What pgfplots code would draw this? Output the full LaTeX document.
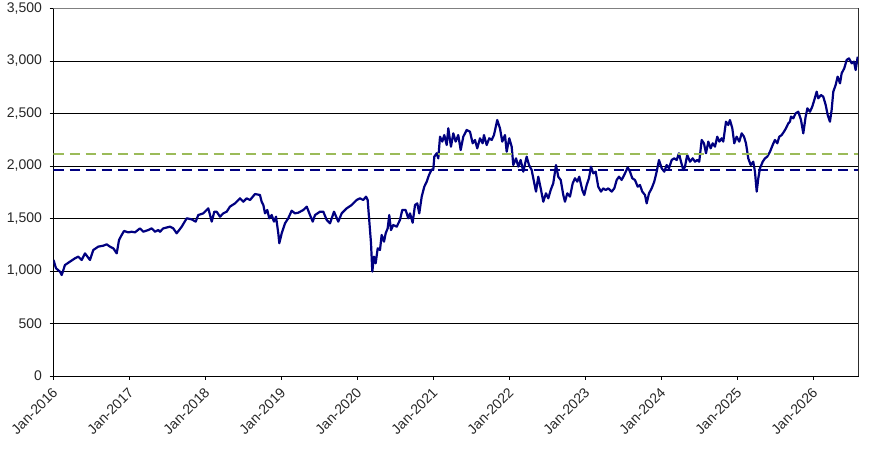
\documentclass[border=0pt]{standalone}
\usepackage{fontspec}
\setmainfont{Liberation Sans}
\usepackage{pgfplots}
\pgfplotsset{compat=1.18}
\definecolor{navyline}{RGB}{0,0,128}
\definecolor{olivedash}{RGB}{155,187,89}
\definecolor{bordergray}{RGB}{128,128,128}
\begin{document}
\begin{tikzpicture}
\begin{axis}[
  scale only axis, width=804.8pt, height=367.5pt,
  xmin=2016, xmax=2026.59, ymin=0, ymax=3500,
  xtick={2016,2017,2018,2019,2020,2021,2022,2023,2024,2025,2026},
  xticklabels={Jan-2016,Jan-2017,Jan-2018,Jan-2019,Jan-2020,Jan-2021,Jan-2022,Jan-2023,Jan-2024,Jan-2025,Jan-2026},
  ytick={0,500,1000,1500,2000,2500,3000,3500},
  tick align=outside, xtick pos=bottom, ytick pos=left,
  major tick length=4pt,
  tick style={black, line width=0.8pt},
  ymajorgrids, grid style={black, line width=0.8pt},
  axis line style={black, line width=0.8pt},
  /pgf/number format/1000 sep={,},
  /pgf/number format/assume math mode=true,
  ticklabel style={font=\fontsize{14}{16}\selectfont, text=black!85},
  yticklabel style={xshift=-4pt},
  xticklabel style={xshift=4pt, yshift=-8pt, rotate=45, anchor=east},
  clip=true,
]
\coordinate (sw) at (rel axis cs:0,0);
\coordinate (ne) at (rel axis cs:1,1);
\addplot[navyline, line width=2.2pt, line join=round, mark=none] coordinates {
(2016.000,1105) (2016.033,1026) (2016.086,993) (2016.108,962) (2016.151,1057)
(2016.217,1089) (2016.283,1121) (2016.326,1137) (2016.371,1105) (2016.414,1168)
(2016.480,1105) (2016.524,1200) (2016.589,1232) (2016.655,1241) (2016.700,1254)
(2016.743,1232) (2016.787,1216) (2016.832,1168) (2016.862,1295) (2016.897,1343)
(2016.928,1381) (2016.984,1368) (2017.029,1374) (2017.072,1368) (2017.138,1406)
(2017.182,1374) (2017.247,1390) (2017.292,1406) (2017.336,1374) (2017.379,1390)
(2017.401,1374) (2017.445,1406) (2017.533,1422) (2017.576,1406) (2017.621,1359)
(2017.687,1422) (2017.753,1502) (2017.818,1492) (2017.871,1470) (2017.905,1533)
(2017.971,1549) (2018.037,1597) (2018.082,1470) (2018.116,1565) (2018.147,1565)
(2018.191,1517) (2018.234,1549) (2018.279,1565) (2018.322,1613) (2018.388,1644)
(2018.454,1692) (2018.497,1660) (2018.542,1692) (2018.586,1676) (2018.651,1733)
(2018.717,1724) (2018.739,1660) (2018.761,1629) (2018.783,1549) (2018.813,1581)
(2018.839,1502) (2018.871,1533) (2018.901,1470) (2018.928,1517) (2018.958,1359)
(2018.971,1264) (2019.003,1359) (2019.046,1454) (2019.089,1502) (2019.134,1574)
(2019.178,1549) (2019.221,1555) (2019.287,1581) (2019.332,1613) (2019.375,1533)
(2019.411,1470) (2019.441,1533) (2019.507,1565) (2019.550,1565) (2019.595,1486)
(2019.638,1454) (2019.661,1502) (2019.691,1565) (2019.747,1470) (2019.792,1549)
(2019.858,1597) (2019.924,1629) (2019.989,1676) (2020.033,1692) (2020.076,1676)
(2020.112,1708) (2020.134,1676) (2020.151,1517) (2020.178,1264) (2020.195,994)
(2020.217,1137) (2020.239,1073) (2020.266,1216) (2020.296,1200) (2020.318,1343)
(2020.349,1279) (2020.371,1359) (2020.397,1406) (2020.418,1533) (2020.441,1390)
(2020.471,1438) (2020.516,1422) (2020.559,1486) (2020.589,1581) (2020.634,1581)
(2020.668,1502) (2020.691,1549) (2020.726,1460) (2020.757,1629) (2020.787,1644)
(2020.813,1549) (2020.845,1708) (2020.879,1803) (2020.911,1851) (2020.941,1914)
(2020.976,1968) (2020.997,1962) (2021.011,2089) (2021.042,2121) (2021.063,2073)
(2021.086,2279) (2021.116,2232) (2021.142,2295) (2021.174,2200) (2021.195,2359)
(2021.230,2184) (2021.261,2311) (2021.292,2232) (2021.326,2295) (2021.358,2152)
(2021.392,2279) (2021.437,2343) (2021.480,2327) (2021.516,2216) (2021.546,2248)
(2021.576,2168) (2021.612,2264) (2021.647,2216) (2021.664,2295) (2021.700,2200)
(2021.734,2264) (2021.766,2248) (2021.796,2295) (2021.839,2438) (2021.875,2359)
(2021.905,2232) (2021.941,2295) (2021.963,2136) (2021.997,2264) (2022.029,2184)
(2022.050,2009) (2022.086,2073) (2022.116,1994) (2022.147,2057) (2022.182,1946)
(2022.226,2089) (2022.257,2009) (2022.292,1962) (2022.322,1851) (2022.349,1756)
(2022.379,1898) (2022.411,1787) (2022.445,1660) (2022.480,1740) (2022.511,1692)
(2022.542,1771) (2022.576,1835) (2022.612,2009) (2022.642,1898) (2022.674,1867)
(2022.708,1724) (2022.730,1660) (2022.761,1740) (2022.796,1708) (2022.832,1835)
(2022.862,1883) (2022.892,1851) (2022.918,1898) (2022.958,1771) (2022.984,1724)
(2023.016,1819) (2023.046,1883) (2023.072,1994) (2023.103,1930) (2023.134,1946)
(2023.168,1803) (2023.204,1756) (2023.234,1787) (2023.266,1771) (2023.300,1787)
(2023.345,1756) (2023.379,1787) (2023.411,1867) (2023.441,1898) (2023.476,1867)
(2023.520,1930) (2023.555,1987) (2023.586,1946) (2023.616,1883) (2023.651,1867)
(2023.687,1803) (2023.717,1819) (2023.747,1756) (2023.783,1724) (2023.805,1644)
(2023.836,1740) (2023.871,1787) (2023.905,1851) (2023.937,1946) (2023.967,2057)
(2024.003,1978) (2024.037,1946) (2024.068,2009) (2024.099,1978) (2024.134,2057)
(2024.168,2073) (2024.200,2057) (2024.230,2121) (2024.257,2041) (2024.287,1962)
(2024.309,1994) (2024.339,2105) (2024.375,2041) (2024.411,2073) (2024.441,2041)
(2024.471,2057) (2024.497,2041) (2024.529,2248) (2024.559,2216) (2024.586,2121)
(2024.616,2232) (2024.647,2168) (2024.674,2216) (2024.704,2184) (2024.734,2279)
(2024.761,2232) (2024.792,2264) (2024.813,2232) (2024.849,2422) (2024.879,2390)
(2024.901,2438) (2024.932,2359) (2024.958,2216) (2024.989,2279) (2025.024,2232)
(2025.055,2311) (2025.086,2279) (2025.112,2216) (2025.142,2073) (2025.174,2009)
(2025.208,2041) (2025.230,1946) (2025.253,1756) (2025.274,1883) (2025.296,1978)
(2025.332,2041) (2025.362,2073) (2025.392,2089) (2025.428,2136) (2025.463,2200)
(2025.493,2248) (2025.524,2216) (2025.550,2279) (2025.582,2295) (2025.612,2327)
(2025.638,2359) (2025.668,2405) (2025.691,2422) (2025.704,2470) (2025.734,2454)
(2025.766,2502) (2025.800,2517) (2025.836,2438) (2025.866,2311) (2025.897,2470)
(2025.920,2549) (2025.954,2517) (2025.984,2565) (2026.011,2629) (2026.042,2708)
(2026.063,2645) (2026.099,2676) (2026.129,2660) (2026.161,2581) (2026.187,2486)
(2026.217,2422) (2026.239,2533) (2026.261,2708) (2026.292,2772) (2026.318,2851)
(2026.349,2787) (2026.371,2883) (2026.405,2930) (2026.437,3010) (2026.467,3025)
(2026.503,2978) (2026.533,2994) (2026.555,2914) (2026.582,3041)
};
\addplot[olivedash, line width=2pt, dash pattern=on 10pt off 6pt, mark=none] coordinates {(2016,2114) (2026.59,2114)};
\addplot[navyline, line width=2pt, dash pattern=on 10pt off 6pt, mark=none] coordinates {(2016,1962) (2026.59,1962)};
\draw[bordergray, line width=1.3pt] (rel axis cs:0,1) -- (rel axis cs:1,1) -- (rel axis cs:1,0);
\end{axis}
\pgfresetboundingbox
\path[use as bounding box] ([shift={(-53.5pt,-73pt)}]sw) rectangle ([shift={(24.7pt,8.5pt)}]ne);
\end{tikzpicture}
\end{document}
